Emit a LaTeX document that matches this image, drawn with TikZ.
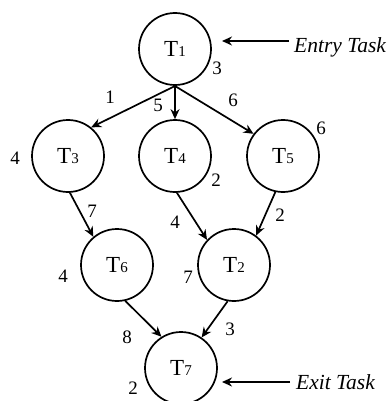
\documentclass[tikz,border=0pt]{standalone}
\usepackage{fontspec}
\setmainfont{Liberation Serif}
\usetikzlibrary{arrows.meta}
\begin{document}
\begin{tikzpicture}[x=1pt,y=-1pt,
  task/.style={circle,draw,line width=1.7pt,minimum size=72pt,inner sep=0pt,font=\fontsize{23}{25}\selectfont},
  wt/.style={font=\fontsize{19}{21}\selectfont,inner sep=0pt},
  edge/.style={line width=1.7pt,-{Stealth[length=10pt,width=9pt]}},
  tag/.style={font=\fontsize{21.5}{24}\selectfont\itshape,inner sep=0pt,anchor=west}]
\useasboundingbox (0,0) rectangle (388,401);
\newcommand{\tsk}[1]{T\raisebox{-0.5pt}{\fontsize{15}{17}\selectfont #1}}
% tasks
\node[task] (t1) at (175,49) {\tsk{1}};
\node[task] (t3) at (68,156) {\tsk{3}};
\node[task] (t4) at (175,156) {\tsk{4}};
\node[task] (t5) at (283,156) {\tsk{5}};
\node[task] (t6) at (117,265) {\tsk{6}};
\node[task] (t2) at (234,265) {\tsk{2}};
\node[task] (t7) at (181,368) {\tsk{7}};
% edges
\coordinate (s1) at (175,86);
\draw[edge] (s1) -- (t3.51);
\draw[edge] (s1) -- (t4);
\draw[edge] (s1) -- (t5.143);
\draw[edge] (t3.-87) -- (t6.130);
\draw[edge] (t4.-87) -- (t2.137);
\draw[edge] (t5.-102) -- (t2.53);
\draw[edge] (t6.-77) -- (t7.122);
\draw[edge] (t2.-100) -- (t7.56);
% computation costs
\node[wt] (c1) at (217,68) {3};
\node[wt] (c3) at (15,158) {4};
\node[wt] (c4) at (216,180) {2};
\node[wt] (c5) at (321,128) {6};
\node[wt] (c6) at (63,276) {4};
\node[wt] (c2) at (188,277) {7};
\node[wt] (c7) at (133,388) {2};
% communication costs
\node[wt] (e13) at (110,97) {1};
\node[wt] (e14) at (158,105) {5};
\node[wt] (e15) at (233,100) {6};
\node[wt] (e36) at (92,211) {7};
\node[wt] (e42) at (175,222) {4};
\node[wt] (e52) at (280,215) {2};
\node[wt] (e67) at (127,337) {8};
\node[wt] (e27) at (230,329) {3};
% entry / exit markers
\node[tag] (entry) at (294,47) {Entry Task};
\node[tag] (exit) at (296,382) {Exit Task};
\coordinate (ea) at (222,41);
\coordinate (xa) at (222,382);
\draw[edge] (entry.west |- ea) ++(-5,0) -- (ea);
\draw[edge] (exit.west |- xa) ++(-6,0) -- (xa);
\end{tikzpicture}
\end{document}
